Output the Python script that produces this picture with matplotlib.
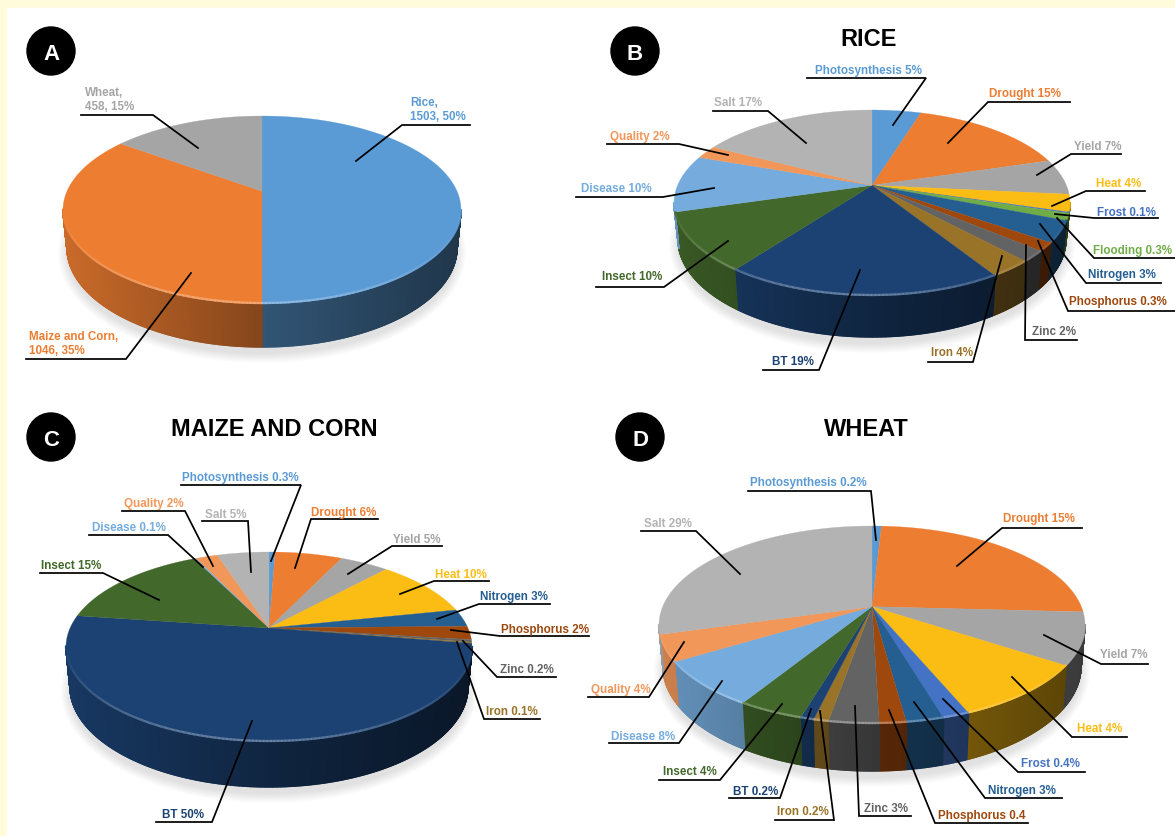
import numpy as np
import matplotlib
matplotlib.use('Agg')
import matplotlib.pyplot as plt
from matplotlib.collections import PolyCollection, LineCollection
from matplotlib.colors import to_rgb
from matplotlib.patches import Circle, Ellipse, Rectangle

plt.rcParams['font.family'] = ['Liberation Sans', 'DejaVu Sans']

# slice shares as drawn in the picture (percent of the circle)
crop_labels = ['Rice,\n1503, 50%', 'Maize and Corn,\n1046, 35%', 'Wheat,\n458, 15%']
crop_values = [50, 35, 15]
crop_colors = ['#5b9bd5', '#ed7d31', '#a5a5a5']

rice_names = ['Photosynthesis', 'Drought', 'Yield', 'Heat', 'Frost', 'Flooding', 'Nitrogen', 'Phosphorus',
              'Zinc', 'Iron', 'BT', 'Insect', 'Disease', 'Quality', 'Salt']
rice_labels = ['Photosynthesis 5%', 'Drought 15%', 'Yield 7%', 'Heat 4%', 'Frost 0.1%', 'Flooding 0.3%',
               'Nitrogen 3%', 'Phosphorus 0.3%', 'Zinc 2%', 'Iron 4%', 'BT 19%', 'Insect 10%',
               'Disease 10%', 'Quality 2%', 'Salt 17%']
rice_values = [4.8, 15.5, 6.2, 3.0, 0.2, 1.2, 3.7, 1.5, 1.9, 3.0, 19.1, 10.2, 9.9, 2.3, 17.3]

maize_names = ['Photosynthesis', 'Drought', 'Yield', 'Heat', 'Nitrogen', 'Phosphorus', 'Zinc', 'Iron',
               'BT', 'Insect', 'Disease', 'Quality', 'Salt']
maize_labels = ['Photosynthesis 0.3%', 'Drought 6%', 'Yield 5%', 'Heat 10%', 'Nitrogen 3%', 'Phosphorus 2%',
                'Zinc 0.2%', 'Iron 0.1%', 'BT 50%', 'Insect 15%', 'Disease 0.1%', 'Quality 2%', 'Salt 5%']
maize_values = [0.6, 6.5, 4.7, 9.9, 3.0, 2.3, 0.4, 0.2, 49.6, 15.5, 0.2, 2.1, 5.0]

wheat_names = ['Photosynthesis', 'Drought', 'Yield', 'Heat', 'Frost', 'Nitrogen', 'Phosphorus', 'Zinc',
               'Iron', 'BT', 'Insect', 'Disease', 'Quality', 'Salt']
wheat_labels = ['Photosynthesis 0.2%', 'Drought 15%', 'Yield 7%', 'Heat 4%', 'Frost 0.4%', 'Nitrogen 3%',
                'Phosphorus 0.4', 'Zinc 3%', 'Iron 0.2%', 'BT 0.2%', 'Insect 4%', 'Disease 8%',
                'Quality 4%', 'Salt 29%']
wheat_values = [0.85, 25.0, 8.5, 9.4, 1.7, 2.4, 1.7, 3.2, 0.95, 0.85, 4.2, 7.5, 4.3, 29.45]

slice_colors = {'Photosynthesis': '#5b9bd5', 'Drought': '#ed7d31', 'Yield': '#a5a5a5', 'Heat': '#fbbc14',
                'Frost': '#4472c4', 'Flooding': '#70ad47', 'Nitrogen': '#255e91', 'Phosphorus': '#9e480e',
                'Zinc': '#636363', 'Iron': '#997328', 'BT': '#1c4273', 'Insect': '#43682b',
                'Disease': '#76acdd', 'Quality': '#f1975a', 'Salt': '#b3b3b3'}

# layout in pixels: text left, text middle, then leader from the slice to the end of the underline
crop_layout = [(410, 110, [(356, 162), (402, 126), (470, 126)]),
               (29, 344, [(191, 274), (126, 360), (26, 360)]),
               (85, 100, [(198, 149), (153, 116), (81, 116)])]
rice_layout = [(815, 71, [(893, 126), (926, 79), (807, 79)]),
               (989, 94, [(948, 144), (988, 103), (1070, 103)]),
               (1074, 147, [(1037, 176), (1071, 155), (1121, 155)]),
               (1096, 184, [(1052, 207), (1086, 192), (1145, 192)]),
               (1097, 213, [(1055, 215), (1094, 219), (1158, 219)]),
               (1093, 251, [(1057, 219), (1094, 259), (1177, 259)]),
               (1088, 275, [(1040, 225), (1086, 284), (1161, 284)]),
               (1069, 302, [(1038, 242), (1068, 312), (1175, 312)]),
               (1032, 332, [(1026, 246), (1025, 341), (1077, 341)]),
               (931, 353, [(1002, 257), (973, 363), (928, 363)]),
               (772, 362, [(860, 271), (819, 371), (763, 371)]),
               (602, 277, [(728, 242), (664, 288), (596, 288)]),
               (581, 189, [(714, 189), (663, 198), (576, 198)]),
               (610, 137, [(728, 156), (679, 145), (607, 145)]),
               (714, 103, [(806, 144), (768, 112), (713, 112)])]
maize_layout = [(182, 478, [(271, 562), (301, 486), (181, 486)]),
                (311, 513, [(295, 569), (311, 520), (378, 520)]),
                (393, 540, [(348, 575), (392, 547), (442, 547)]),
                (435, 575, [(400, 595), (434, 582), (489, 582)]),
                (480, 597, [(437, 620), (479, 605), (550, 605)]),
                (501, 630, [(451, 631), (500, 637), (589, 637)]),
                (500, 670, [(463, 642), (497, 678), (556, 678)]),
                (486, 712, [(457, 643), (484, 720), (540, 720)]),
                (162, 815, [(252, 722), (212, 823), (156, 823)]),
                (41, 566, [(159, 601), (103, 574), (40, 574)]),
                (92, 528, [(203, 568), (168, 536), (89, 536)]),
                (124, 504, [(213, 567), (185, 512), (122, 512)]),
                (205, 515, [(251, 573), (248, 522), (202, 522)])]
wheat_layout = [(750, 483, [(876, 541), (871, 492), (748, 492)]),
                (1003, 519, [(957, 567), (1002, 529), (1082, 529)]),
                (1100, 655, [(1044, 636), (1101, 665), (1148, 665)]),
                (1077, 729, [(1012, 678), (1072, 738), (1127, 738)]),
                (1021, 764, [(943, 700), (1018, 773), (1085, 773)]),
                (988, 791, [(914, 703), (985, 799), (1062, 799)]),
                (938, 816, [(889, 711), (935, 824), (1028, 824)]),
                (864, 809, [(855, 707), (859, 817), (911, 817)]),
                (777, 812, [(820, 712), (834, 821), (775, 821)]),
                (733, 792, [(811, 710), (780, 799), (729, 799)]),
                (663, 772, [(782, 705), (720, 781), (659, 781)]),
                (611, 737, [(722, 682), (679, 744), (609, 744)]),
                (591, 690, [(684, 643), (649, 698), (588, 698)]),
                (644, 524, [(740, 575), (696, 532), (641, 532)])]


def rim_points(theta, e):
    # circle seen in perspective: the centre lands e above the middle of the ellipse
    x = np.sin(theta)
    y = np.cos(theta)
    d = 1 + e * y
    return x * np.sqrt(1 - e ** 2) / d, (y + e) / d


def wall_shade(px):
    # brighter on the left, dark on the right
    if px < 0:
        return 0.56 - 0.29 * px
    return 0.55 - 0.2 * px


def draw_pie(ax, values, colors, cx, cy, rx, ry, depth, e):
    rx2 = rx - 4
    cy2 = cy + 0.88 * depth
    ry2 = ry + 0.12 * depth

    # soft shadow under the disc
    for i in range(10):
        ax.add_patch(Ellipse((cx, cy2 + 5), 2 * (rx2 + 9 - i), 2 * (ry2 + 11 - i), color='#808080',
                             alpha=0.022, lw=0, zorder=1))

    edges = np.cumsum([0] + list(values)) / sum(values) * 2 * np.pi
    apex = (cx, cy - ry * e)
    for i, c in enumerate(colors):
        n = max(3, int((edges[i + 1] - edges[i]) * 180))
        t = np.linspace(edges[i], edges[i + 1], n)
        px, py = rim_points(t, e)
        base = np.array(to_rgb(c))

        # wall, one thin strip at a time
        quads = []
        shades = []
        for j in range(n - 1):
            if py[j] < 0 or py[j + 1] < 0:
                quads.append([(cx + rx * px[j], cy - ry * py[j]), (cx + rx * px[j + 1], cy - ry * py[j + 1]),
                              (cx + rx2 * px[j + 1], cy2 - ry2 * py[j + 1]), (cx + rx2 * px[j], cy2 - ry2 * py[j])])
                shades.append(base * wall_shade(px[j]))
        if quads:
            ax.add_collection(PolyCollection(quads, facecolors=shades, edgecolors=shades, linewidths=1.0, zorder=2))

        # top face
        verts = [apex] + list(zip(cx + rx * px, cy - ry * py))
        ax.fill(*zip(*verts), color=c, lw=0.2, zorder=3)

        # bevel along the front of the rim
        segs = []
        seg_colors = []
        for j in range(n - 1):
            if py[j] < 0:
                segs.append([(cx + rx * px[j], cy - ry * py[j] - 1), (cx + rx * px[j + 1], cy - ry * py[j + 1] - 1)])
                k = np.clip(-py[j], 0, 1) * 0.35 * (1 - 0.5 * max(px[j], 0))
                seg_colors.append(base + (1 - base) * k)
        if segs:
            ax.add_collection(LineCollection(segs, colors=seg_colors, linewidths=1.6, zorder=4))


def draw_labels(ax, labels, colors, layout):
    for label, c, (tx, ty, pts) in zip(labels, colors, layout):
        ax.plot(*zip(*pts), color='black', lw=1.25, zorder=6, solid_joinstyle='miter')
        ax.text(tx, ty, label, color=c, fontsize=8.4, fontweight='bold', ha='left', va='center',
                linespacing=1.15, zorder=7)


def badge(ax, x, y, letter):
    ax.add_patch(Circle((x, y), 24, color='black', zorder=8))
    ax.text(x, y, letter, color='white', fontsize=16, fontweight='bold', ha='center', va='center_baseline', zorder=9)


fig = plt.figure(figsize=(11.75, 8.37), dpi=100)
ax = fig.add_axes([0, 0, 1, 1])
ax.set_xlim(0, 1175)
ax.set_ylim(837, 0)
ax.axis('off')

# pale page behind the white panel
ax.add_patch(Rectangle((0, 0), 1175, 837, color='#fffbdb', zorder=0))
ax.add_patch(Rectangle((7, 9), 1168, 828, color='white', zorder=0.5))

draw_pie(ax, crop_values, crop_colors, 262, 211, 199, 94, 43, 0.2)
draw_labels(ax, crop_labels, crop_colors, crop_layout)
badge(ax, 51, 52, 'A')

rice_colors = [slice_colors[n] for n in rice_names]
draw_pie(ax, rice_values, rice_colors, 872, 204, 198, 93, 41, 0.19)
draw_labels(ax, rice_labels, rice_colors, rice_layout)
badge(ax, 635, 52, 'B')
ax.text(869, 39, 'RICE', fontsize=17, fontweight='bold', ha='center', va='center')

maize_colors = [slice_colors[n] for n in maize_names]
draw_pie(ax, maize_values, maize_colors, 269, 648, 203, 95, 45, 0.2)
draw_labels(ax, maize_labels, maize_colors, maize_layout)
badge(ax, 51, 438, 'C')
ax.text(274, 429, 'MAIZE AND CORN', fontsize=17, fontweight='bold', ha='center', va='center')

wheat_colors = [slice_colors[n] for n in wheat_names]
draw_pie(ax, wheat_values, wheat_colors, 872, 626, 213, 99, 47, 0.185)
draw_labels(ax, wheat_labels, wheat_colors, wheat_layout)
badge(ax, 640, 438, 'D')
ax.text(866, 430, 'WHEAT', fontsize=17, fontweight='bold', ha='center', va='center')

fig.savefig('out.png', dpi=100)
